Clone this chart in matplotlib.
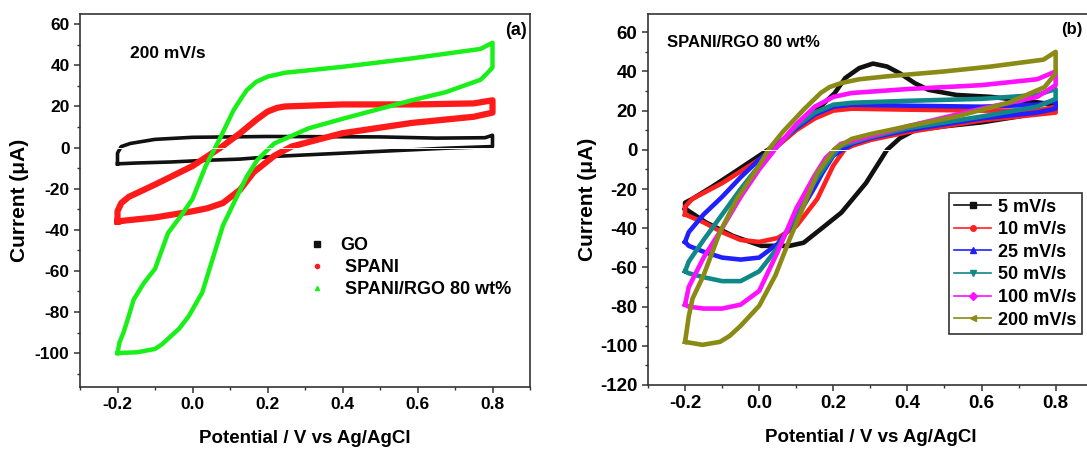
import matplotlib
matplotlib.use("Agg")
import matplotlib.pyplot as plt
from matplotlib.lines import Line2D
from matplotlib.ticker import MultipleLocator, FuncFormatter

plt.rcParams['font.family'] = ['Liberation Sans', 'DejaVu Sans']
plt.rcParams['font.weight'] = 'bold'
plt.rcParams['axes.unicode_minus'] = False

# ---------------- Panel (a) data: 200 mV/s ----------------
go_x = [-0.2, -0.2, -0.19, -0.166, -0.1, 0.0, 0.2, 0.5, 0.65, 0.78, 0.8, 0.8,
        0.676, 0.493, 0.31, 0.218, 0.127, 0.035, -0.056, -0.148, -0.2, -0.2]
go_y = [-7.9, -2.7, 0.5, 2.0, 4.0, 5.0, 5.4, 5.2, 4.6, 4.8, 6.0, 0.5,
        -0.3, -1.9, -3.5, -4.3, -5.6, -6.2, -7.0, -7.5, -7.9, -7.9]

spani_x = [-0.2, -0.2, -0.19, -0.17, -0.1, 0.0, 0.075, 0.127, 0.17, 0.2, 0.225, 0.246, 0.4, 0.6, 0.75, 0.8, 0.8,
           0.75, 0.585, 0.4, 0.264, 0.218, 0.163, 0.127, 0.081, 0.04, 0.0, -0.1, -0.18, -0.2]
spani_y = [-36, -31, -27, -24, -18, -9, 0, 7, 13.5, 17.5, 19.3, 20, 21, 21, 21.5, 23, 17,
           15, 12, 7, 0.5, -4, -12, -20.5, -27, -29.5, -31, -34, -35.5, -36]

rgo_x = [-0.2, -0.195, -0.184, -0.17, -0.157, -0.13, -0.1, -0.065, -0.03, 0.0, 0.035, 0.072, 0.109,
         0.13, 0.145, 0.17, 0.2, 0.246, 0.4, 0.585, 0.768, 0.8, 0.8, 0.785, 0.768, 0.676, 0.585,
         0.4, 0.31, 0.218, 0.195, 0.173, 0.145, 0.118, 0.081, 0.054, 0.026, -0.01, -0.035, -0.056,
         -0.08, -0.1, -0.148, -0.2]
rgo_y = [-100, -95, -90, -82, -74, -66, -59, -41.5, -33, -25, -9, 4, 18,
         24, 28, 32, 34.5, 36.4, 39.3, 43.4, 48, 51, 39, 36, 33, 27, 23,
         14, 9.4, 2, -2, -6, -14, -24, -38, -54, -70.5, -82, -88, -91.5,
         -95.5, -98, -99.6, -100]

# ---------------- Panel (b) data: SPANI/RGO 80 wt% ----------------
s5_x = [-0.2, -0.2, -0.18, -0.125, -0.07, 0.0, 0.063, 0.11, 0.157, 0.204, 0.232, 0.27, 0.307,
        0.345, 0.38, 0.42, 0.457, 0.532, 0.626, 0.72, 0.8, 0.8,
        0.7, 0.6, 0.5, 0.42, 0.38, 0.345, 0.288, 0.222, 0.176, 0.12, 0.082, 0.006,
        -0.07, -0.144, -0.2]
s5_y = [-30, -27, -25, -18.6, -11.8, -3, 5, 12, 20.5, 29, 36.6, 41.7, 44,
        42.5, 39, 34, 30.6, 28, 27, 25, 23, 21,
        17, 14, 12, 10, 6, 0, -17, -32, -39, -47.4, -49, -49,
        -44, -37, -30]

s10_x = [-0.2, -0.2, -0.18, -0.15, -0.1, -0.05, 0.0, 0.05, 0.1, 0.15, 0.2, 0.25, 0.4, 0.6, 0.75, 0.8, 0.8,
         0.75, 0.6, 0.4, 0.3, 0.25, 0.23, 0.2, 0.157, 0.1, 0.05, 0.0, -0.05, -0.1, -0.15, -0.2]
s10_y = [-33, -29, -25, -22, -17, -11, -5, 2, 10, 16, 20, 21, 20.5, 20, 20, 22, 19,
         18, 15, 9, 5, 2, 0, -8, -25, -39, -45, -47, -46, -42, -37, -33]

s25_x = [-0.2, -0.19, -0.15, -0.1, -0.05, 0.0, 0.05, 0.1, 0.15, 0.2, 0.25, 0.4, 0.6, 0.75, 0.8, 0.8,
         0.75, 0.6, 0.4, 0.3, 0.25, 0.2, 0.17, 0.15, 0.1, 0.05, 0.0, -0.05, -0.1, -0.15, -0.19, -0.2]
s25_y = [-47, -42, -33, -24, -14, -5, 3, 11, 18, 22, 23, 22.5, 22, 23, 25, 21,
         19, 16, 10, 6, 3, -3, -12, -19, -35, -48, -55, -56, -55, -52, -49, -47]

s50_x = [-0.2, -0.19, -0.15, -0.1, -0.05, 0.0, 0.05, 0.1, 0.15, 0.2, 0.25, 0.4, 0.6, 0.75, 0.8, 0.8,
         0.75, 0.6, 0.4, 0.3, 0.22, 0.19, 0.15, 0.1, 0.05, 0.0, -0.05, -0.1, -0.15, -0.19, -0.2]
s50_y = [-62, -57, -46, -33, -20, -8, 2, 12, 19, 23, 24, 25, 26, 28, 31, 26,
         22, 17, 11, 6.5, 2, -5, -16, -33, -50, -62, -67, -67, -65, -63, -62]

s100_x = [-0.2, -0.19, -0.15, -0.1, -0.05, 0.0, 0.05, 0.1, 0.15, 0.2, 0.25, 0.4, 0.6, 0.75, 0.8, 0.8,
          0.75, 0.6, 0.4, 0.3, 0.22, 0.18, 0.15, 0.1, 0.05, 0.0, -0.05, -0.1, -0.15, -0.19, -0.2]
s100_y = [-79, -70, -55, -40, -24, -10, 2, 13, 22, 27, 29, 31, 33, 36, 40, 33,
          27, 21, 12, 7, 3, -4, -13, -30, -52, -72, -79, -81, -81, -80, -79]

s200_x = [-0.2, -0.19, -0.18, -0.15, -0.106, -0.06, 0.0, 0.025, 0.063, 0.12, 0.166, 0.19, 0.22, 0.27,
          0.345, 0.5, 0.626, 0.767, 0.8, 0.8, 0.77, 0.673, 0.532, 0.4, 0.3, 0.25, 0.204, 0.157, 0.12,
          0.082, 0.044, 0.0, -0.05, -0.08, -0.106, -0.153, -0.2]
s200_y = [-98, -85, -76, -64, -42, -25, -8, 0, 9, 20.5, 29, 32, 34, 36,
          37.5, 40, 42.5, 46, 50, 39, 32, 24, 17, 12, 8, 5.6, 0.5, -11.8, -28.7,
          -45.7, -64, -79.6, -89.8, -95, -98, -99.5, -98]

rates = ['5 mV/s', '10 mV/s', '25 mV/s', '50 mV/s', '100 mV/s', '200 mV/s']
rate_x = [s5_x, s10_x, s25_x, s50_x, s100_x, s200_x]
rate_y = [s5_y, s10_y, s25_y, s50_y, s100_y, s200_y]
rate_colors = ['#111111', '#ff2020', '#2020ff', '#108888', '#ff10ff', '#8a8a14']
rate_markers = ['s', 'o', '^', 'v', 'D', '<']

W, H = 1087, 453
fig = plt.figure(figsize=(W / 100, H / 100), dpi=100)

def setup(ax, ylim, yticks, fs):
    ax.set_xlim(-0.3, 0.9)
    ax.set_ylim(*ylim)
    ax.set_xticks([-0.2, 0.0, 0.2, 0.4, 0.6, 0.8])
    ax.set_yticks(yticks)
    ax.xaxis.set_minor_locator(MultipleLocator(0.1))
    ax.yaxis.set_minor_locator(MultipleLocator(10))
    ax.tick_params(which='major', direction='out', length=4, width=1.1, labelsize=fs, color='#333333')
    ax.tick_params(which='minor', direction='out', length=2.5, width=1.0, color='#333333')
    ax.xaxis.set_major_formatter(FuncFormatter(lambda v, p: f"{v:.1f}"))
    for lab in ax.get_xticklabels() + ax.get_yticklabels():
        lab.set_fontweight('bold')
    for s in ax.spines.values():
        s.set_color('#333333')
        s.set_linewidth(1.2)

# Panel (a)
axa = fig.add_axes([80 / W, 1 - 387 / H, 450 / W, 373 / H])
setup(axa, (-116.5, 65), [60, 40, 20, 0, -20, -40, -60, -80, -100], 12.5)
axa.plot(go_x, go_y, color='#111111', lw=2.6, solid_joinstyle='round')
axa.plot(spani_x, spani_y, color='#ff1a1a', lw=4.5, solid_joinstyle='round')
axa.plot(rgo_x, rgo_y, color='#19f019', lw=3.2, solid_joinstyle='round')
axa.axhline(0, color='white', lw=0.7)
axa.set_xlabel('Potential / V vs Ag/AgCl', fontsize=13.5, fontweight='bold', labelpad=13)
axa.set_ylabel('Current (\u03bcA)', fontsize=15, fontweight='bold', labelpad=4)
axa.text(0.111, 0.895, '200 mV/s', transform=axa.transAxes, fontsize=12.5, fontweight='bold', va='center')
axa.text(0.992, 0.957, '(a)', transform=axa.transAxes, fontsize=13, fontweight='bold', va='center', ha='right')
ha = [Line2D([], [], ls='none', marker='s', ms=4, color='#111111'),
      Line2D([], [], ls='none', marker='o', ms=3, color='#ff1a1a'),
      Line2D([], [], ls='none', marker='^', ms=3, color='#19f019')]
axa.legend(ha, ['GO', ' SPANI', ' SPANI/RGO 80 wt%'], frameon=False, loc='upper left',
           bbox_to_anchor=(0.47, 0.445), handlelength=1.0, handletextpad=0.8, labelspacing=0.28,
           prop={'size': 13, 'weight': 'bold'})

# Panel (b)
axb = fig.add_axes([648 / W, 1 - 385 / H, 444.7 / W, 371 / H])
setup(axb, (-120, 69.3), [60, 40, 20, 0, -20, -40, -60, -80, -100, -120], 13.5)
for xs, ys, c in zip(rate_x, rate_y, rate_colors):
    axb.plot(xs, ys, color=c, lw=3.3, solid_joinstyle='round')
axb.axhline(0, color='white', lw=0.7)
axb.set_xlabel('Potential / V vs Ag/AgCl', fontsize=13.5, fontweight='bold', labelpad=12)
axb.set_ylabel('Current (\u03bcA)', fontsize=15, fontweight='bold', labelpad=2)
axb.text(0.043, 0.922, 'SPANI/RGO 80 wt%', transform=axb.transAxes, fontsize=12, fontweight='bold', va='center')
axb.text(0.93, 0.957, '(b)', transform=axb.transAxes, fontsize=12, fontweight='bold', va='center')
hb = [Line2D([], [], ls='-', lw=1.2, marker=m, ms=4, color=c) for m, c in zip(rate_markers, rate_colors)]
leg = axb.legend(hb, rates, loc='upper left', bbox_to_anchor=(0.677, 0.517), frameon=True,
                 fancybox=False, edgecolor='#333333', framealpha=1, handlelength=2.0,
                 handletextpad=0.4, labelspacing=0.31, borderpad=0.3, borderaxespad=0,
                 prop={'size': 13, 'weight': 'bold'})
leg.get_frame().set_linewidth(1.2)

fig.savefig('out.png', dpi=100)
